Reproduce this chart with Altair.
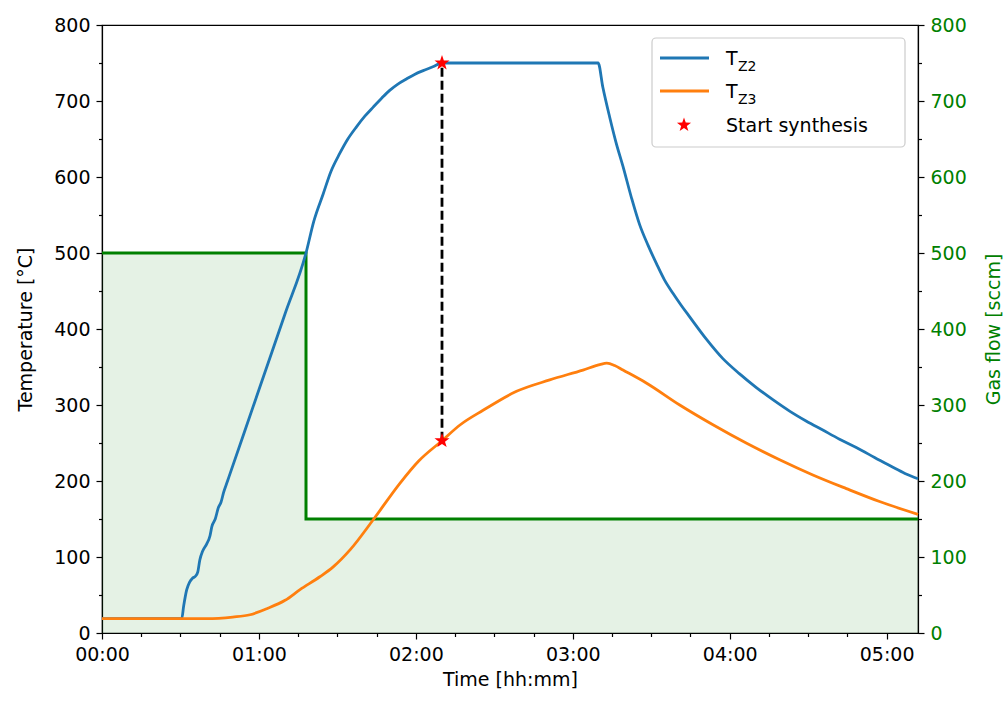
import math
import altair as alt
import pandas as pd

# ---------------- data ----------------
# time in minutes since start
t_z2_time = [0, 30.5, 31.2, 32.4, 33.5, 34.6, 35.8, 36.6, 37.4, 38.5, 40, 41.3, 42, 43.3,
             44.5, 45.5, 46.5, 48, 49, 60, 70, 78, 81, 84.6, 87.5, 90.9, 94, 97.3, 100.5,
             103.7, 107, 110, 113, 116.4, 119.5, 122.8, 126.5, 130, 189.7, 191.5, 194.1,
             196.5, 199.2, 202.5, 205.6, 208.8, 212, 215, 218.3, 221.5, 224.7, 231, 237.4,
             243.8, 250.2, 256.5, 262.9, 269.2, 275.6, 282, 288.4, 295.4, 302.4, 307, 312]
t_z2_temp = [19, 19, 35, 57, 67, 72, 75, 80, 96, 108, 117, 128, 140, 150,
             165, 172, 185, 200, 210, 320, 420, 500, 542, 578, 607, 631, 650, 666, 680,
             692, 704, 714, 722, 729, 735, 740, 745, 750, 750, 718, 679,
             646, 614, 572, 537, 510, 486, 465, 447, 431, 416, 387, 361,
             341, 323, 307, 292, 279, 267, 255, 244, 231, 218, 210, 203]

t_z3_time = [0, 40, 50, 56.6, 63, 70, 75.7, 83.3, 88.4, 95, 103.7, 113.9, 121, 130,
             137, 145.7, 158.5, 171.2, 183.9, 190.3, 193, 196, 199.2, 208.1, 220.9,
             233.6, 246.3, 259.1, 271.8, 284.6, 297.3, 312]
t_z3_temp = [19, 19, 21, 24, 32, 43, 57, 74, 87, 110, 149, 197, 226, 253,
             274, 293, 318, 333, 346, 353, 355, 352, 346, 329, 300,
             274, 250, 228, 208, 190, 173, 156]

gas_time = [0, 78, 312]
gas_flow = [500, 150, 150]

synth_time = [130, 130]
synth_temp = [750, 253]

x_tick_minutes = list(range(0, 301, 15))
y_tick_values = list(range(0, 801, 50))

legend_labels = ["T", "Z2", "T", "Z3", "Start synthesis"]

# ---------------- frames ----------------
df_z2 = pd.DataFrame({"t": t_z2_time, "v": t_z2_temp})
df_z3 = pd.DataFrame({"t": t_z3_time, "v": t_z3_temp})
df_gas = pd.DataFrame({"t": gas_time, "g": gas_flow})
df_star = pd.DataFrame({"t": synth_time, "v": synth_temp})
df_rule = pd.DataFrame({"t": [synth_time[0]], "v": [min(synth_temp)], "v2": [max(synth_temp)]})
df_one = pd.DataFrame({"k": [0]})

FONT = "DejaVu Sans"
FS = 19
BLUE = "#1f77b4"
ORANGE = "#ff7f0e"
GREEN = "#008000"
LW = 2.8

# star symbol path
pts = []
for i in range(10):
    r = 1.0 if i % 2 == 0 else 0.40
    a = -math.pi / 2 + i * math.pi / 5
    pts.append(f"{r * math.cos(a):.3f},{r * math.sin(a):.3f}")
STAR = "M" + " L".join(pts) + " Z"

x_scale = alt.Scale(domain=[0, 312], nice=False, zero=False)
y_scale = alt.Scale(domain=[0, 800], nice=False, zero=False)

X = alt.X(
    "t:Q",
    scale=x_scale,
    axis=alt.Axis(
        values=x_tick_minutes,
        labelExpr="datum.value % 60 === 0 ? '0' + floor(datum.value / 60) + ':00' : ''",
        tickSize={"condition": {"test": "datum.value % 60 === 0", "value": 6}, "value": 3.5},
        title="Time [hh:mm]",
        labelFlush=False,
        labelPadding=6,
        titlePadding=6,
        grid=False,
    ),
)

Y_left = alt.Y(
    "v:Q",
    scale=y_scale,
    axis=alt.Axis(
        orient="left",
        values=y_tick_values,
        labelExpr="datum.value % 100 === 0 ? datum.label : ''",
        tickSize={"condition": {"test": "datum.value % 100 === 0", "value": 6}, "value": 3.5},
        title="Temperature [°C]",
        labelFlush=False,
        labelPadding=6,
        titlePadding=18,
        grid=False,
    ),
)

Y_right = alt.Y(
    "g:Q",
    scale=y_scale,
    axis=alt.Axis(
        orient="right",
        values=y_tick_values,
        labelExpr="datum.value % 100 === 0 ? datum.label : ''",
        tickSize={"condition": {"test": "datum.value % 100 === 0", "value": 6}, "value": 3.5},
        title="Gas flow [sccm]",
        titleAngle=270,
        titleX=75,
        titleY=304,
        titleAlign="center",
        titleBaseline="middle",
        labelColor=GREEN,
        titleColor=GREEN,
        labelFlush=False,
        labelPadding=6,
        grid=False,
    ),
)

# ---------------- gas flow (right axis) ----------------
gas_area = alt.Chart(df_gas).mark_area(
    interpolate="step-after", color=GREEN, opacity=0.1
).encode(x=X, y=Y_right)
gas_line = alt.Chart(df_gas).mark_line(
    interpolate="step-after", color=GREEN, strokeWidth=3
).encode(x=X, y=Y_right)
gas_layer = alt.layer(gas_area, gas_line)

# ---------------- temperatures (left axis) ----------------
line_z2 = alt.Chart(df_z2).mark_line(color=BLUE, strokeWidth=LW, interpolate="monotone").encode(x=X, y=Y_left)
line_z3 = alt.Chart(df_z3).mark_line(color=ORANGE, strokeWidth=LW, interpolate="monotone").encode(x=X, y=Y_left)
rule = alt.Chart(df_rule).mark_rule(color="black", strokeWidth=LW, strokeDash=[9, 4]).encode(
    x=X, y=Y_left, y2="v2:Q"
)
stars = alt.Chart(df_star).mark_point(
    shape=STAR, size=250, filled=True, color="red", opacity=1
).encode(x=X, y=Y_left)

# ---------------- custom legend ----------------
leg_box = alt.Chart(df_one).mark_rect(
    fill="white", fillOpacity=0.8, stroke="#cccccc", strokeWidth=1.2, cornerRadius=4
).encode(x=alt.value(550), x2=alt.value(803), y=alt.value(13), y2=alt.value(122))
leg_l1 = alt.Chart(df_one).mark_rule(color=BLUE, strokeWidth=LW).encode(
    x=alt.value(558), x2=alt.value(607), y=alt.value(33)
)
leg_l2 = alt.Chart(df_one).mark_rule(color=ORANGE, strokeWidth=LW).encode(
    x=alt.value(558), x2=alt.value(607), y=alt.value(66)
)
leg_star = alt.Chart(df_one).mark_point(
    shape=STAR, size=220, filled=True, color="red", opacity=1
).encode(x=alt.value(582), y=alt.value(100))


def txt(label, x, y, size):
    return alt.Chart(df_one).mark_text(
        font=FONT, fontSize=size, align="left", baseline="alphabetic", color="black"
    ).encode(x=alt.value(x), y=alt.value(y), text=alt.value(label))


leg_texts = [
    txt(legend_labels[0], 624, 40, FS),
    txt(legend_labels[1], 636, 46, 14),
    txt(legend_labels[2], 624, 73, FS),
    txt(legend_labels[3], 636, 79, 14),
    txt(legend_labels[4], 624, 107, FS),
]

temp_layer = alt.layer(line_z2, line_z3, rule, stars, leg_box, leg_l1, leg_l2, leg_star, *leg_texts)

chart = (
    alt.layer(gas_layer, temp_layer)
    .resolve_scale(y="independent")
    .properties(
        width=816,
        height=608,
        autosize=alt.AutoSizeParams(type="none"),
        padding={"left": 102, "top": 25, "right": 87, "bottom": 69},
        background="white",
    )
    .configure_view(stroke="black", strokeWidth=1.2)
    .configure_axis(
        labelFont=FONT,
        titleFont=FONT,
        labelFontSize=FS,
        titleFontSize=FS,
        titleFontWeight="normal",
        labelColor="black",
        titleColor="black",
        tickColor="black",
        domainColor="black",
        domainWidth=1.2,
        tickWidth=1.2,
        grid=False,
    )
)

chart.save("out.html", embed_options={"renderer": "svg", "actions": False})
